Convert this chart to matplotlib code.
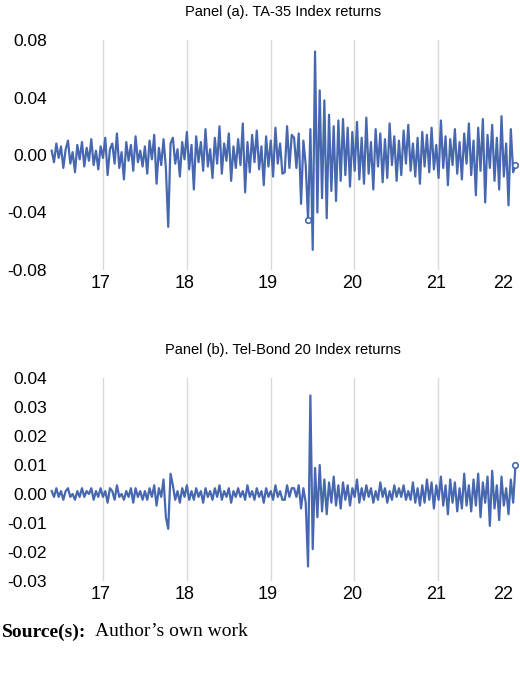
import numpy as np
import matplotlib
matplotlib.use("Agg")
import matplotlib.pyplot as plt

ta35 = [3,-5,8,-2,6,-9,4,10,-6,2,-12,7,-3,9,-8,5,-4,11,-7,3,
 -10,6,-2,12,-14,4,8,-6,15,-9,2,-17,9,-4,7,-11,13,-5,3,-8,
 6,-13,10,-3,14,-20,5,-7,11,-9,-50,8,12,-6,4,-15,9,-3,16,-10,
 7,-24,13,-5,9,-11,18,-8,4,-16,12,-6,20,-13,8,-4,15,-18,6,-9,
 11,-7,22,-26,9,-12,14,-5,17,-10,6,-21,13,-8,10,-15,19,-6,8,-13,
 -12,20,-9,14,
 12,-9,15,-34,10,-7,-45,18,-66,72,-40,45,-30,38,-44,28,-25,20,-32,24,
 -18,25,-14,19,-22,16,-11,23,-17,12,-20,26,-13,9,-24,18,-8,15,-19,11,
 -16,22,-7,13,-18,10,-14,17,-6,21,-11,8,-15,12,-20,16,
 -8,14,-12,19,-10,7,-16,24,-9,13,-21,11,-7,18,-13,9,-17,15,-6,22,
 -14,10,-28,19,-11,25,-33,14,-9,21,-18,12,-24,27,-15,8,-35,18,-12,-7]
telbond = [1,-1,2,-1,1,-2,1,2,-1,0,-2,1,-1,2,-1,1,0,2,-2,1,
 -1,2,-1,1,-3,2,1,-2,3,-1,0,-2,1,-1,2,-3,2,-1,1,-2,
 1,-2,2,-1,3,-4,2,-1,5,-8,-12,7,3,-2,1,-3,2,-1,3,-2,
 1,-2,2,-1,1,-3,2,-1,1,-2,2,-1,3,-2,1,-1,2,-3,1,-1,
 2,-1,1,-2,3,-1,1,-2,2,-1,1,-3,2,-1,1,-2,3,-1,1,-2,
 -2,3,-1,2,
 2,-1,3,-5,2,-3,-25,34,-19,9,-8,10,-6,5,-7,4,-3,6,-4,3,
 -5,4,-2,3,-4,2,-1,5,-3,2,-2,3,-1,2,-3,1,-2,4,-1,2,
 -3,1,-2,3,-1,2,-1,3,-2,1,-2,4,-3,2,-4,3,
 -3,5,-2,4,-5,3,-2,6,-4,3,-7,5,-3,4,-6,2,-5,7,-4,3,
 -6,5,-4,7,-8,4,-3,6,-11,8,-5,3,-9,6,-4,2,-7,5,-3,10]
year_labels = ["17","18","19","20","21","22"]
year_ticks = [17, 18, 19, 20, 21, 21.8]
t_start, t_end = 16.42, 21.95

ta = np.array(ta35)/1000.0
tb = np.array(telbond)/1000.0
t = np.linspace(t_start, t_end, len(ta))
col = "#4768b0"

W, H = 520, 674
fig = plt.figure(figsize=(W/100, H/100), dpi=100)
fs = "Liberation Sans"

def px(x0, y0, x1, y1):
    return [x0/W, 1-y1/H, (x1-x0)/W, (y1-y0)/H]

def panel(rect, vals, yt, ylim, title, ty, circ):
    ax = fig.add_axes(rect)
    ax.plot(t, vals, color=col, lw=1.6)
    for i in circ:
        ax.plot(t[i], vals[i], 'o', mfc='white', mec=col, ms=4, mew=1.2)
    ax.set_xlim(t_start-0.02, t_end+0.03)
    ax.set_ylim(*ylim)
    ax.set_yticks(yt)
    ax.set_yticklabels([f"{v:.2f}" for v in yt], fontsize=12.5, family=fs)
    ax.set_xticks(year_ticks)
    ax.set_xticklabels(year_labels, fontsize=13, family=fs)
    ax.set_xticks([17.03, 18.03, 19.03, 20.03, 21.03], minor=True)
    ax.xaxis.grid(True, which='minor', color="#d9d9d9", lw=1)
    ax.set_axisbelow(True)
    ax.tick_params(length=0, which='both')
    ax.tick_params(axis='y', pad=2)
    for s in ax.spines.values():
        s.set_visible(False)
    fig.text(0.5*(48+518)/W, 1-ty/H, title, ha='center', va='center', fontsize=10.5, family=fs)
    return ax

panel(px(50, 40, 518, 270), ta, [0.08,0.04,0.0,-0.04,-0.08], (-0.08, 0.08),
      "Panel (a). TA-35 Index returns", 12, [110, len(ta)-1])
panel(px(50, 378, 518, 581), tb, [0.04,0.03,0.02,0.01,0.0,-0.01,-0.02,-0.03], (-0.03, 0.04),
      "Panel (b). Tel-Bond 20 Index returns", 350, [len(tb)-1])

fig.text(2/W, 1-632/H, "Source(s):", fontsize=14, family="Liberation Serif", weight='bold', va='center')
fig.text(95/W, 1-632/H, "Author\u2019s own work", fontsize=14, family="Liberation Serif", va='center')
fig.savefig("out.png", dpi=100)
